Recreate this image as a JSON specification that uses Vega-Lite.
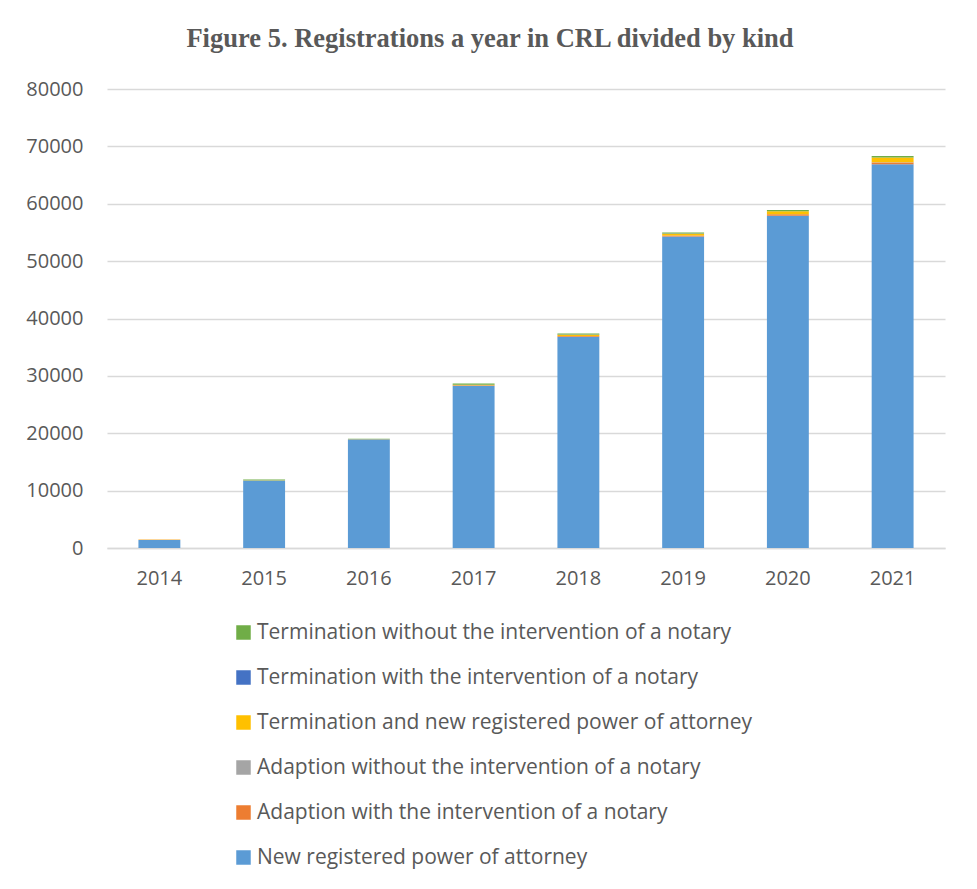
{
  "$schema": "https://vega.github.io/schema/vega-lite/v6.json",
  "width": 838,
  "height": 459,
  "autosize": {"type": "none"},
  "padding": {"left": 107, "top": 89, "right": 32, "bottom": 341},
  "background": "white",
  "title": {
    "text": "Figure 5. Registrations a year in CRL divided by kind",
    "font": "Liberation Serif",
    "fontSize": 26.5,
    "fontWeight": "bold",
    "color": "#595959",
    "anchor": "middle",
    "dx": -36,
    "offset": 27
  },
  "data": {
    "values": [
      {"year": "2014", "kind": "New registered power of attorney", "value": 1400},
      {"year": "2014", "kind": "Adaption with the intervention of a notary", "value": 30},
      {"year": "2014", "kind": "Termination and new registered power of attorney", "value": 60},
      {"year": "2014", "kind": "Termination without the intervention of a notary", "value": 10},
      {"year": "2015", "kind": "New registered power of attorney", "value": 11750},
      {"year": "2015", "kind": "Adaption with the intervention of a notary", "value": 30},
      {"year": "2015", "kind": "Termination and new registered power of attorney", "value": 30},
      {"year": "2015", "kind": "Termination without the intervention of a notary", "value": 150},
      {"year": "2016", "kind": "New registered power of attorney", "value": 18950},
      {"year": "2016", "kind": "Adaption with the intervention of a notary", "value": 20},
      {"year": "2016", "kind": "Termination and new registered power of attorney", "value": 30},
      {"year": "2016", "kind": "Termination without the intervention of a notary", "value": 60},
      {"year": "2017", "kind": "New registered power of attorney", "value": 28300},
      {"year": "2017", "kind": "Adaption with the intervention of a notary", "value": 60},
      {"year": "2017", "kind": "Adaption without the intervention of a notary", "value": 10},
      {"year": "2017", "kind": "Termination and new registered power of attorney", "value": 80},
      {"year": "2017", "kind": "Termination without the intervention of a notary", "value": 200},
      {"year": "2018", "kind": "New registered power of attorney", "value": 36800},
      {"year": "2018", "kind": "Adaption with the intervention of a notary", "value": 150},
      {"year": "2018", "kind": "Adaption without the intervention of a notary", "value": 20},
      {"year": "2018", "kind": "Termination and new registered power of attorney", "value": 200},
      {"year": "2018", "kind": "Termination with the intervention of a notary", "value": 20},
      {"year": "2018", "kind": "Termination without the intervention of a notary", "value": 180},
      {"year": "2019", "kind": "New registered power of attorney", "value": 54300},
      {"year": "2019", "kind": "Adaption with the intervention of a notary", "value": 150},
      {"year": "2019", "kind": "Adaption without the intervention of a notary", "value": 20},
      {"year": "2019", "kind": "Termination and new registered power of attorney", "value": 320},
      {"year": "2019", "kind": "Termination with the intervention of a notary", "value": 20},
      {"year": "2019", "kind": "Termination without the intervention of a notary", "value": 190},
      {"year": "2020", "kind": "New registered power of attorney", "value": 57900},
      {"year": "2020", "kind": "Adaption with the intervention of a notary", "value": 250},
      {"year": "2020", "kind": "Adaption without the intervention of a notary", "value": 30},
      {"year": "2020", "kind": "Termination and new registered power of attorney", "value": 500},
      {"year": "2020", "kind": "Termination with the intervention of a notary", "value": 20},
      {"year": "2020", "kind": "Termination without the intervention of a notary", "value": 200},
      {"year": "2021", "kind": "New registered power of attorney", "value": 66900},
      {"year": "2021", "kind": "Adaption with the intervention of a notary", "value": 300},
      {"year": "2021", "kind": "Adaption without the intervention of a notary", "value": 50},
      {"year": "2021", "kind": "Termination and new registered power of attorney", "value": 800},
      {"year": "2021", "kind": "Termination with the intervention of a notary", "value": 30},
      {"year": "2021", "kind": "Termination without the intervention of a notary", "value": 250}
    ]
  },
  "transform": [
    {"calculate": "indexof(['New registered power of attorney','Adaption with the intervention of a notary','Adaption without the intervention of a notary','Termination and new registered power of attorney','Termination with the intervention of a notary','Termination without the intervention of a notary'], datum.kind)", "as": "ord"}
  ],
  "mark": {"type": "bar"},
  "encoding": {
    "x": {
      "field": "year",
      "type": "ordinal",
      "title": null,
      "scale": {"paddingInner": 0.6, "paddingOuter": 0.3},
      "axis": {
        "labelAngle": 0,
        "labelFont": "Open Sans",
        "labelFontSize": 20,
        "labelColor": "#595959",
        "labelPadding": 20,
        "ticks": false,
        "domainColor": "#d9d9d9",
        "domainWidth": 1.5
      }
    },
    "y": {
      "field": "value",
      "type": "quantitative",
      "aggregate": "sum",
      "stack": "zero",
      "title": null,
      "scale": {"domain": [0, 80000]},
      "axis": {
        "values": [0, 10000, 20000, 30000, 40000, 50000, 60000, 70000, 80000],
        "format": "d",
        "labelFont": "Open Sans",
        "labelFontSize": 20,
        "labelColor": "#595959",
        "labelPadding": 24,
        "ticks": false,
        "domain": false,
        "gridColor": "#d9d9d9",
        "gridWidth": 1.5
      }
    },
    "order": {"field": "ord", "type": "quantitative", "aggregate": "min"},
    "color": {
      "field": "kind",
      "type": "nominal",
      "scale": {
        "domain": [
          "Termination without the intervention of a notary",
          "Termination with the intervention of a notary",
          "Termination and new registered power of attorney",
          "Adaption without the intervention of a notary",
          "Adaption with the intervention of a notary",
          "New registered power of attorney"
        ],
        "range": ["#70AD47", "#4472C4", "#FFC000", "#A5A5A5", "#ED7D31", "#5B9BD5"]
      },
      "legend": {
        "title": null,
        "orient": "none",
        "legendX": 126,
        "legendY": 533,
        "direction": "vertical",
        "symbolType": "square",
        "symbolSize": 210,
        "symbolStrokeWidth": 0,
        "labelFont": "Open Sans",
        "labelFontSize": 21,
        "labelColor": "#595959",
        "labelLimit": 700,
        "rowPadding": 23,
        "labelOffset": 3
      }
    }
  },
  "config": {
    "view": {"stroke": null}
  }
}
